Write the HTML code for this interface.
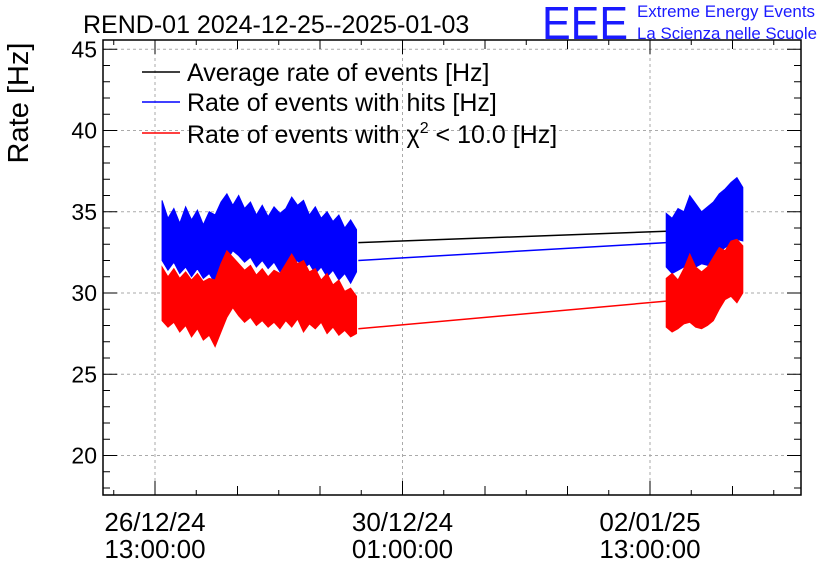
<!DOCTYPE html>
<html><head><meta charset="utf-8"><style>
body{margin:0;background:#fff;}
svg{display:block;font-family:"Liberation Sans",sans-serif;}
</style></head><body>
<svg id="chart" width="836" height="572" viewBox="0 0 836 572">
<text x="83" y="33" font-size="25">REND-01 2024-12-25--2025-01-03</text>
<text x="542" y="39" font-size="46" fill="#1a1aff" textLength="86" lengthAdjust="spacingAndGlyphs">EEE</text>
<text x="637" y="17" font-size="17" fill="#1a1aff" textLength="178" lengthAdjust="spacingAndGlyphs">Extreme Energy Events</text>
<text x="637" y="39" font-size="17" fill="#1a1aff" textLength="180" lengthAdjust="spacingAndGlyphs">La Scienza nelle Scuole</text>
<text transform="translate(28,103) rotate(-90)" text-anchor="middle" font-size="29">Rate [Hz]</text>
<g id="grid"></g><g id="series"></g><g id="axes"></g>
<g font-size="25">
<line x1="142" y1="72" x2="180" y2="72" stroke="#000" stroke-width="1.5"/>
<text x="187" y="81">Average rate of events [Hz]</text>
<line x1="142" y1="102" x2="180" y2="102" stroke="#00f" stroke-width="1.5"/>
<text x="187" y="111">Rate of events with hits [Hz]</text>
<line x1="142" y1="133" x2="180" y2="133" stroke="#f00" stroke-width="1.5"/>
<text x="187" y="143">Rate of events with χ<tspan dy="-10" font-size="16">2</tspan><tspan dy="10"> &lt; 10.0 [Hz]</tspan></text>
</g>
</svg>
<script>
const yTicks=[20,25,30,35,40,45];
const xTickHours=[0,84,168];
const xTickLabels1=["26/12/24","30/12/24","02/01/25"];
const xTickLabels2=["13:00:00","01:00:00","13:00:00"];
const seg1Start=2.4, seg2Start=173.5, step=2;
const blueHi1=[35.7,34.6,35.2,34.3,35.3,34.5,35.1,34.2,35.0,34.8,35.6,36.1,35.4,36.0,35.2,35.6,34.8,35.4,34.7,35.3,34.9,35.2,35.9,35.4,35.7,34.8,35.3,34.6,35.0,34.4,34.8,34.0,34.5,33.9];
const blueLo1=[32.0,31.4,31.9,31.2,31.6,31.0,31.5,30.9,31.2,30.6,31.4,32.0,32.6,32.3,31.9,32.2,31.6,32.0,31.5,31.9,31.3,31.8,31.4,32.0,31.5,31.8,31.2,31.6,31.0,31.4,30.8,31.2,30.6,31.3];
const redHi1=[31.6,31.0,31.5,30.9,31.3,30.8,31.2,30.7,30.9,30.8,31.8,32.6,32.2,31.8,31.4,31.7,31.1,31.5,31.0,31.4,31.2,31.8,32.4,31.8,32.0,31.3,31.5,30.8,31.2,30.5,30.8,30.1,30.3,29.8];
const redLo1=[28.3,27.9,28.2,27.6,28.0,27.3,27.8,27.1,27.4,26.7,27.6,28.5,29.1,28.6,28.2,28.5,28.0,28.3,27.9,28.2,27.8,28.3,27.9,28.4,27.6,28.1,27.8,28.2,27.5,27.9,27.4,27.7,27.3,27.5];
const blueHi2=[34.9,34.6,35.2,35.0,36.0,35.5,35.0,35.3,35.6,36.1,36.4,36.8,37.1,36.5];
const blueLo2=[31.6,31.2,31.4,31.6,31.9,31.6,31.8,31.7,32.0,32.5,32.8,33.0,33.3,33.2];
const redHi2=[30.9,31.2,30.8,31.5,32.4,31.6,31.3,31.6,32.2,32.8,32.6,33.2,33.3,32.9];
const redLo2=[27.9,27.6,27.8,28.1,28.2,27.9,27.8,28.0,28.3,29.0,29.6,29.8,29.4,30.0];
const gapHours=[69,173.5];
const gapAvg=[33.1,33.8], gapBlue=[32.0,33.1], gapRed=[27.8,29.5];

const L=103,R=801,T=40,B=495;
const xs=h=>155+h*(495/168);
const ys=v=>293-(v-30)*16.25;
const NS="http://www.w3.org/2000/svg";
function mk(tag,parent,attrs){const e=document.createElementNS(NS,tag);for(const k in attrs)e.setAttribute(k,attrs[k]);document.getElementById(parent).appendChild(e);return e;}

yTicks.forEach(v=>{const e=mk('line','grid',{x1:L,x2:R,y1:ys(v),y2:ys(v),stroke:'#aaa','stroke-dasharray':'3,3'});

});
xTickHours.forEach(h=>{const e=mk('line','grid',{x1:xs(h),x2:xs(h),y1:T,y2:B,stroke:'#aaa','stroke-dasharray':'3,3'});

});

function band(hi,lo,start,color,name){
  const top=hi.map((v,i)=>xs(start+i*step)+','+ys(v));
  const bot=lo.map((v,i)=>xs(start+i*step)+','+ys(v)).reverse();
  const e=mk('polygon','series',{points:top.concat(bot).join(' '),fill:color,stroke:color,'stroke-width':1});
  
  
}
function gap(vals,color,name){
  const e=mk('line','series',{x1:xs(gapHours[0]),x2:xs(gapHours[1]),y1:ys(vals[0]),y2:ys(vals[1]),stroke:color,'stroke-width':1.5});
  
  
}
gap(gapAvg,'#000','average-rate-line');
gap(gapBlue,'#00f','hits-rate-line');
gap(gapRed,'#f00','chi2-rate-line');
band(blueHi1,blueLo1,seg1Start,'#00f','hits-rate-band-1');
band(blueHi2,blueLo2,seg2Start,'#00f','hits-rate-band-2');
band(redHi1,redLo1,seg1Start,'#f00','chi2-rate-band-1');
band(redHi2,redLo2,seg2Start,'#f00','chi2-rate-band-2');

const fr=mk('rect','axes',{x:L,y:T,width:R-L,height:B-T,fill:'none',stroke:'#000','stroke-width':1.5});


for(let v=18;v<=45;v++){const len=(v%5==0)?14:7;
  mk('line','axes',{x1:L,x2:L+len,y1:ys(v),y2:ys(v),stroke:'#000'});
  mk('line','axes',{x1:R-len,x2:R,y1:ys(v),y2:ys(v),stroke:'#000'});}
yTicks.forEach(v=>{const t=mk('text','axes',{x:97,y:ys(v)+8,'text-anchor':'end','font-size':23});t.textContent=v;

});
for(let h=-14;h<=224;h+=14){const x=xs(h);if(x<L||x>R)continue;const len=(h%84==0)?14:(h%28==0?9:5);
  mk('line','axes',{x1:x,x2:x,y1:B-len,y2:B,stroke:'#000'});
  mk('line','axes',{x1:x,x2:x,y1:T,y2:T+len,stroke:'#000'});}
xTickHours.forEach((h,i)=>{
  const a=mk('text','axes',{x:xs(h),y:531,'text-anchor':'middle','font-size':26});a.textContent=xTickLabels1[i];
  
  
  const b=mk('text','axes',{x:xs(h),y:558,'text-anchor':'middle','font-size':26});b.textContent=xTickLabels2[i];
  
  
});
</script>
</body></html>
